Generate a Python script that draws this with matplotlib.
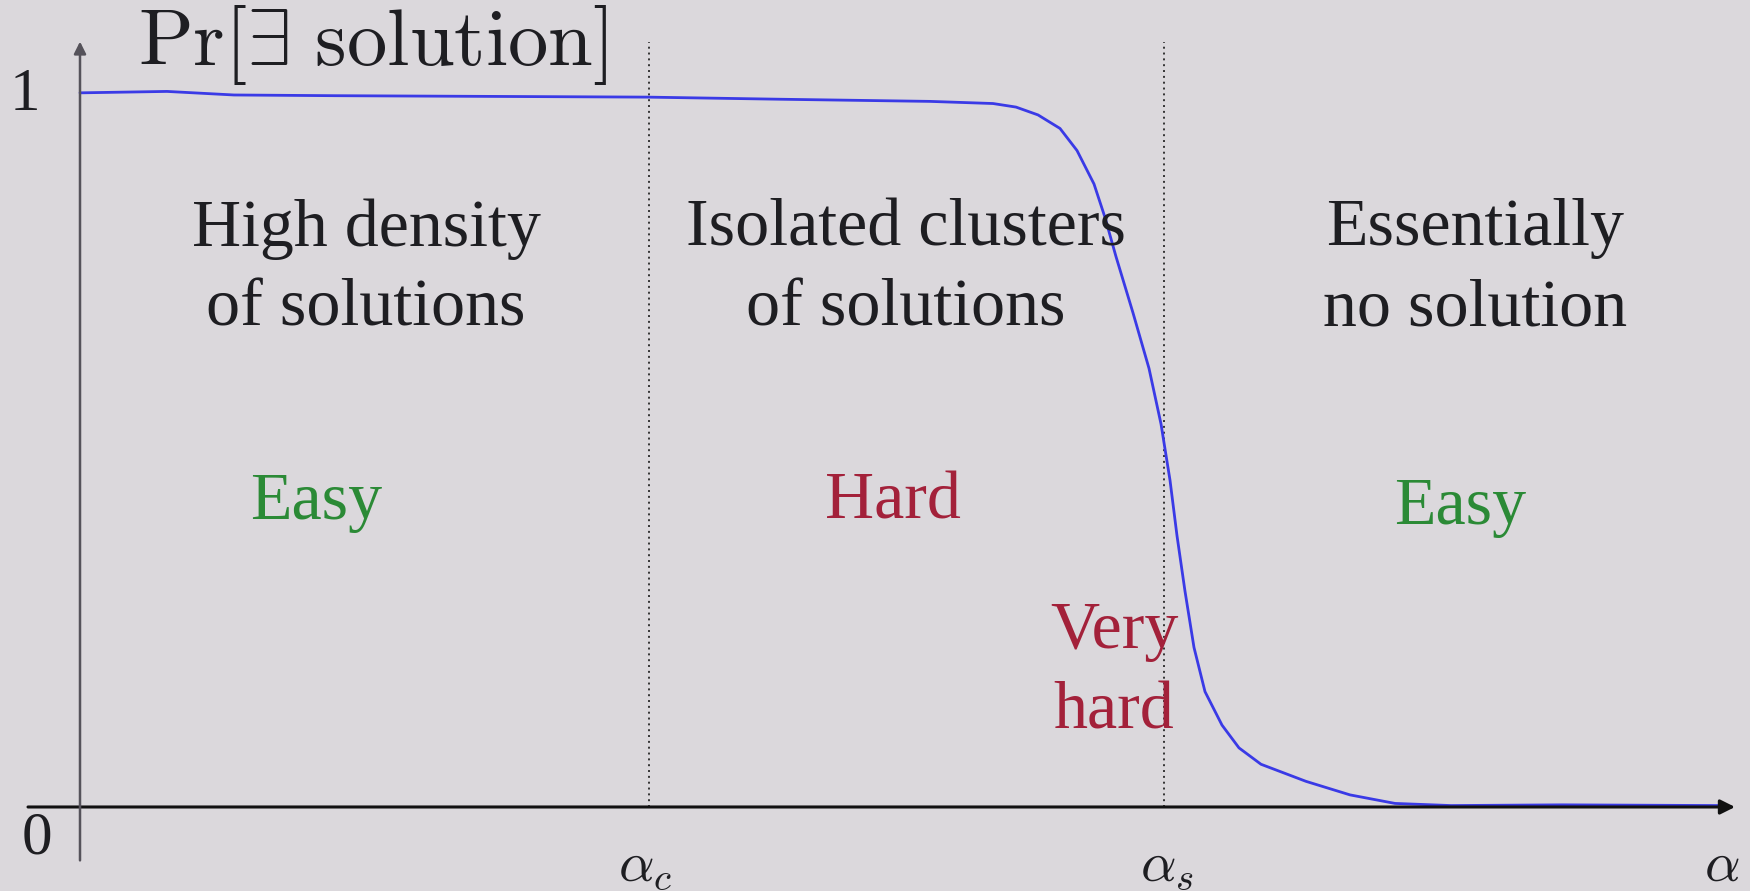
import matplotlib
matplotlib.use("Agg")
import matplotlib.pyplot as plt

plt.rcParams['mathtext.fontset'] = 'cm'

# probability that a solution exists, read along the alpha axis
alpha = [0.0, 0.87, 1.54, 2.55, 5.67, 7.01, 8.50, 9.13, 9.36, 9.58, 9.80,
         9.97, 10.14, 10.25, 10.36, 10.53, 10.69, 10.81, 10.90, 10.97,
         11.05, 11.14, 11.25, 11.42, 11.59, 11.81, 12.26, 12.70, 13.15,
         13.71, 14.82, 16.39]
p_sol = [1.003, 1.005, 1.000, 0.999, 0.997, 0.994, 0.991, 0.988, 0.983,
         0.972, 0.953, 0.922, 0.875, 0.828, 0.773, 0.694, 0.616, 0.538,
         0.459, 0.381, 0.303, 0.224, 0.162, 0.115, 0.083, 0.060, 0.036,
         0.017, 0.005, 0.002, 0.003, 0.002]

alpha_c = 5.69
alpha_s = 10.84

regions = ["High density\nof solutions", "Isolated clusters\nof solutions",
           "Essentially\nno solution"]
region_x = [2.86, 8.26, 13.95]
difficulty = ["Easy", "Hard", "Easy"]
difficulty_x = [2.36, 8.13, 13.80]
difficulty_y = [0.428, 0.428, 0.420]

bg = '#dbd8dc'
green = '#2b8a36'
red = '#a3213a'
ink = '#1e1e22'

fig = plt.figure(figsize=(17.5, 8.91), dpi=100, facecolor=bg)
ax = fig.add_axes([0, 0, 1, 1])
ax.set_facecolor(bg)
ax.set_xlim(-0.8, 16.7)
ax.set_ylim(-0.118, 1.1334)
ax.axis('off')

# axes with arrow heads
ax.annotate('', xy=(16.55, 0), xytext=(-0.52, 0),
            arrowprops=dict(arrowstyle='-|>', color='#111111', lw=2.2,
                            mutation_scale=22, shrinkA=0, shrinkB=0))
ax.annotate('', xy=(0, 1.075), xytext=(0, -0.075),
            arrowprops=dict(arrowstyle='-|>', color='#55525a', lw=1.8,
                            mutation_scale=18, shrinkA=0, shrinkB=0))

# thresholds
for xv in (alpha_c, alpha_s):
    ax.plot([xv, xv], [0, 1.075], color='#333333', lw=1.4, ls=(0, (1, 2)))

ax.plot(alpha, p_sol, color='#3a3ae6', lw=2.0, solid_capstyle='round',
        solid_joinstyle='round')

ax.text(-0.555, 1.0, '1', fontsize=44, family='Liberation Serif',
        color=ink, ha='center', va='center')
ax.text(-0.43, -0.045, '0', fontsize=44, family='Liberation Serif',
        color=ink, ha='center', va='center')
ax.text(0.58, 1.07, r'$\mathrm{Pr}[\exists\ \mathrm{solution}]$',
        fontsize=58, color=ink, ha='left', va='center')

ax.text(alpha_c - 0.04, -0.103, r'$\alpha_c$', fontsize=40, color=ink,
        ha='center', va='baseline')
ax.text(alpha_s + 0.03, -0.103, r'$\alpha_s$', fontsize=40, color=ink,
        ha='center', va='baseline')
ax.text(16.42, -0.103, r'$\alpha$', fontsize=40, color=ink,
        ha='center', va='baseline')

for label, xv in zip(regions, region_x):
    ax.text(xv, 0.756, label, fontsize=49, family='Liberation Serif',
            color=ink, ha='center', va='center', linespacing=1.4)

for label, xv, yv in zip(difficulty, difficulty_x, difficulty_y):
    ax.text(xv, yv, label, fontsize=49, family='Liberation Serif',
            color=green if label == 'Easy' else red, ha='center', va='center')

ax.text(10.34, 0.19, 'Very\nhard', fontsize=49, family='Liberation Serif',
        color=red, ha='center', va='center', linespacing=1.4)

fig.savefig('out.png', dpi=100, facecolor=bg)
